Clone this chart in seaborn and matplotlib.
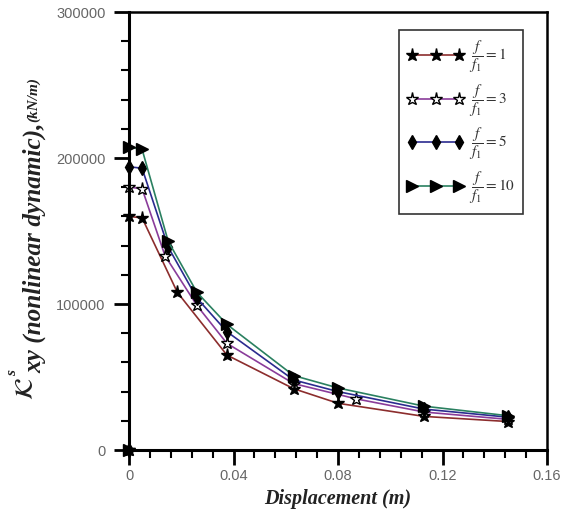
import numpy as np
import pandas as pd
import matplotlib
matplotlib.use("Agg")
import matplotlib.pyplot as plt
from matplotlib.ticker import MultipleLocator, FixedLocator, FixedFormatter
import seaborn as sns

# Dynamic stiffness versus displacement for several frequency ratios
x_r1 = [0, 0, 0.005, 0.0185, 0.0375, 0.063, 0.080, 0.113, 0.145]
k_r1 = [0, 160000, 159000, 108000, 65000, 42000, 32000, 23000, 19500]

x_r3 = [0, 0, 0.005, 0.0138, 0.026, 0.0375, 0.063, 0.087, 0.113, 0.145]
k_r3 = [0, 180000, 179000, 133000, 99000, 73000, 45500, 35000, 26000, 21000]

x_r5 = [0, 0, 0.005, 0.015, 0.026, 0.0375, 0.063, 0.080, 0.113, 0.145]
k_r5 = [0, 194000, 193000, 139000, 104000, 81000, 48000, 40000, 28000, 22500]

x_r10 = [0, 0, 0.005, 0.015, 0.026, 0.0375, 0.063, 0.080, 0.113, 0.145]
k_r10 = [0, 207500, 206000, 143000, 108000, 86000, 51000, 42500, 30000, 23500]

ratios = ["1", "3", "5", "10"]
x_ticks = [0, 0.04, 0.08, 0.12, 0.16]
x_tick_labels = ["0", "0.04", "0.08", "0.12", "0.16"]
y_ticks = [0, 100000, 200000, 300000]
y_tick_labels = ["0", "100000", "200000", "300000"]

sns.set_style("ticks")
plt.rcParams["mathtext.fontset"] = "stix"
plt.rcParams["font.family"] = ["Liberation Sans", "DejaVu Sans"]

W, H = 562, 523
fig = plt.figure(figsize=(W / 100, H / 100), dpi=100)
ax = fig.add_axes([129 / W, 1 - 450 / H, (547 - 129) / W, (450 - 12) / H])

series = [
    (x_r1, k_r1, "#8c2d2d", "*", 9.5, "black"),
    (x_r3, k_r3, "#8a3c9a", "*", 9.5, "white"),
    (x_r5, k_r5, "#2b2b8f", "d", 7, "black"),
    (x_r10, k_r10, "#2a8060", ">", 8, "black"),
]

for (xs, ks, col, mk, ms, face), r in zip(series, ratios):
    df = pd.DataFrame({"disp": xs, "k": ks})
    sns.lineplot(
        data=df, x="disp", y="k", ax=ax, color=col, lw=1.2,
        marker=mk, markersize=ms, markerfacecolor=face,
        markeredgecolor="black", markeredgewidth=1.0,
        estimator=None, sort=False, clip_on=False, zorder=2,
        label=r"$\dfrac{f}{f_1}=\mathit{%s}$" % r,
    )

ax.set_xlim(0, 0.16)
ax.set_ylim(0, 300000)

ax.xaxis.set_major_locator(FixedLocator(x_ticks))
ax.xaxis.set_major_formatter(FixedFormatter(x_tick_labels))
ax.yaxis.set_major_locator(FixedLocator(y_ticks))
ax.yaxis.set_major_formatter(FixedFormatter(y_tick_labels))
ax.xaxis.set_minor_locator(MultipleLocator(0.008))
ax.yaxis.set_minor_locator(MultipleLocator(20000))

ax.tick_params(axis="both", which="major", direction="out", length=11,
               width=2.0, color="black", labelcolor="#666666",
               labelsize=10.5)
ax.tick_params(axis="x", which="major", pad=3)
ax.tick_params(axis="y", which="major", pad=6)
ax.tick_params(axis="both", which="minor", direction="out", length=6,
               width=1.5, color="black")
ax.tick_params(top=False, right=False, which="both")

for side, lw in (("left", 2.2), ("bottom", 2.2), ("top", 1.8), ("right", 1.8)):
    ax.spines[side].set_visible(True)
    ax.spines[side].set_linewidth(lw)
    ax.spines[side].set_color("black")
    ax.spines[side].set_zorder(2.5)

ax.set_xlabel("Displacement (m)", fontsize=14.5, fontweight="bold",
              fontstyle="italic", family="Liberation Serif", color="#222222",
              labelpad=4)
ax.set_ylabel("")

# Vertical axis title assembled from rotated pieces (pixel positions)
def px(x, y):
    return x / W, 1 - y / H

lab_kw = dict(rotation=90, rotation_mode="anchor", ha="left", va="baseline",
              color="#222222")
fig.text(*px(33, 400), r"$\mathcal{K}$", fontsize=19, **lab_kw)
fig.text(*px(16, 376), "s", fontsize=11, family="Liberation Serif",
         fontstyle="italic", fontweight="bold", **lab_kw)
fig.text(*px(41, 373), "xy (nonlinear dynamic),", fontsize=18.2,
         family="Liberation Serif", fontstyle="italic", fontweight="bold",
         **lab_kw)
fig.text(*px(37, 122), "(kN/m)", fontsize=11, family="Liberation Serif",
         fontstyle="italic", fontweight="bold", **lab_kw)

leg = ax.legend(loc="upper right", bbox_to_anchor=(0.943, 0.959),
                borderaxespad=0, numpoints=3, handlelength=3.7,
                handletextpad=0.3, labelspacing=0.45, fontsize=11,
                frameon=True, fancybox=False, borderpad=0.55)
leg.get_frame().set_edgecolor("black")
leg.get_frame().set_linewidth(1.2)
for t in leg.get_texts():
    t.set_color("#333333")

fig.savefig("out.png", dpi=100, facecolor="white")
